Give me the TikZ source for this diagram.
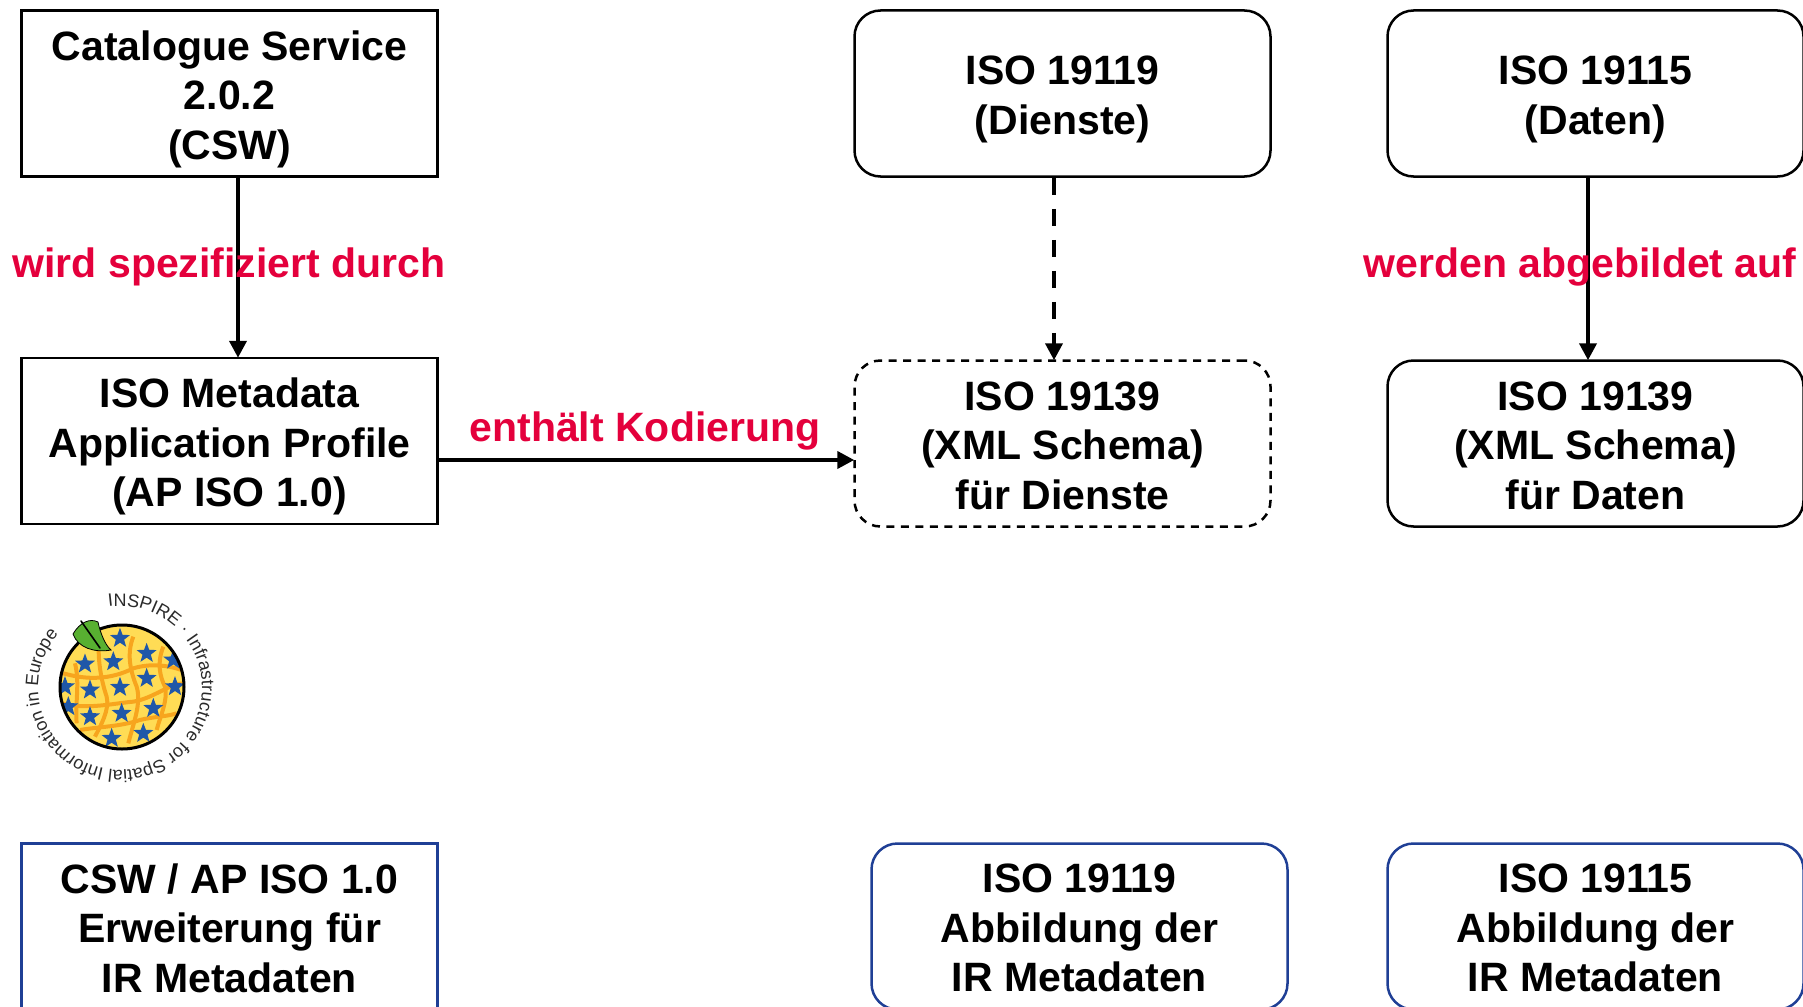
\documentclass[tikz,border=0pt]{standalone}
\usepackage{fontspec}
\setmainfont{Liberation Sans}
\usetikzlibrary{arrows.meta,shapes.geometric,decorations.text}
\definecolor{labelred}{HTML}{E4003C}
\definecolor{boxblue}{HTML}{1F3F95}
\definecolor{globeyellow}{HTML}{FFDC55}
\definecolor{globeorange}{HTML}{F7A51E}
\definecolor{starblue}{HTML}{1F57A8}
\definecolor{leafgreen}{HTML}{58B031}
\definecolor{logotext}{HTML}{2A2A2A}
\newcommand{\logofont}{\fontsize{18}{18}\selectfont\color{logotext}}
\tikzset{
  x=1pt,y=-1pt,
  plainbox/.style={draw=black,line width=2.5pt,minimum width=416pt,minimum height=166pt,inner sep=0pt},
  roundbox/.style={plainbox,rounded corners=26pt},
  dashbox/.style={roundbox,dash pattern=on 8pt off 6.5pt},
  blueplain/.style={plainbox,draw=boxblue},
  blueround/.style={roundbox,draw=boxblue},
  boxtext/.style={inner sep=0pt,align=center,font=\fontsize{41}{49.4}\selectfont\bfseries},
  flow/.style={line width=4pt,shorten >=-1pt,-{Triangle[length=17pt,width=17pt]}},
  flowdash/.style={flow,dash pattern=on 17pt off 14pt},
  redlabel/.style={text=labelred,inner sep=0pt,font=\fontsize{41}{49}\selectfont\bfseries},
  gridline/.style={line width=4pt,globeorange},
  flagstar/.style={star,star points=5,star point ratio=2.4,fill=starblue,inner sep=0pt,minimum size=21pt}
}
\begin{document}
\begin{tikzpicture}
\useasboundingbox (0,0) rectangle (1803,1006);
% top row
\node[plainbox] (cat) at (229.5,93.5) {};
\node[roundbox] (d119) at (1062.5,93.5) {};
\node[roundbox] (d115) at (1595.5,93.5) {};
\node[boxtext] (catt) at (229.5,99) {Catalogue Service\\2.0.2\\(CSW)};
\node[boxtext] (d119t) at (1062.5,99.5) {ISO 19119\\(Dienste)};
\node[boxtext] (d115t) at (1595.5,99.5) {ISO 19115\\(Daten)};
% middle row
\node[plainbox] (ap) at (229.5,441) {};
\node[dashbox] (x139) at (1062.5,443.5) {};
\node[roundbox] (y139) at (1595.5,443.5) {};
\node[boxtext] (apt) at (229.5,446.5) {ISO Metadata\\Application Profile\\(AP ISO 1.0)};
\node[boxtext] (x139t) at (1062.5,445.5) {ISO 19139\\(XML Schema)\\für Dienste};
\node[boxtext] (y139t) at (1595.5,445.5) {ISO 19139\\(XML Schema)\\für Daten};
% bottom row
\node[blueplain] (b1) at (229.5,926.5) {};
\node[blueround] (b2) at (1079.5,926.5) {};
\node[blueround] (b3) at (1595.5,926.5) {};
\node[boxtext] (b1t) at (229.5,928) {CSW / AP ISO 1.0\\Erweiterung für\\IR Metadaten};
\node[boxtext] (b2t) at (1079.5,928) {ISO 19119\\Abbildung der\\IR Metadaten};
\node[boxtext] (b3t) at (1595.5,928) {ISO 19115\\Abbildung der\\IR Metadaten};
% connectors
\draw[flow] ([xshift=8.5pt]cat.south) -- ([xshift=8.5pt]ap.north);
\draw[flowdash] ([xshift=-8.5pt]d119.south) -- ([xshift=-8.5pt]x139.north);
\draw[flow] ([xshift=-7.5pt]d115.south) -- ([xshift=-7.5pt]y139.north);
\draw[flow] ([yshift=-19pt]ap.east) -- ([yshift=-16.5pt]x139.west);
% labels
\node[redlabel] (l1) at (229,266.5) {wird spezifiziert durch};
\node[redlabel] (l2) at (645,430.5) {enthält Kodierung};
\node[redlabel] (l3) at (1580,266.5) {werden abgebildet auf};
% logo
\fill[globeyellow] (122,687) circle (62);
\begin{scope}
\clip (122,687) circle (62);
\begin{scope}[shift={(0,570)},x=0.3333pt,y=-0.3333pt]
\draw[gridline] (190,310) .. controls (260,330) and (330,330) .. (400,295) .. controls (450,280) and (500,285) .. (545,300);
\draw[gridline] (185,400) .. controls (260,420) and (340,400) .. (400,395) .. controls (460,385) and (510,340) .. (550,340);
\draw[gridline] (240,480) .. controls (300,470) and (360,470) .. (420,450) .. controls (460,440) and (500,440) .. (530,430);
\draw[gridline] (300,190) .. controls (290,250) and (300,320) .. (320,380) .. controls (330,420) and (300,470) .. (285,500);
\draw[gridline] (400,200) .. controls (380,250) and (390,300) .. (410,350) .. controls (425,400) and (400,460) .. (385,520);
\draw[gridline] (490,230) .. controls (470,280) and (480,320) .. (495,350) .. controls (505,390) and (480,440) .. (470,480);
\draw[gridline] (225,280) .. controls (240,340) and (225,400) .. (230,460);
\foreach \a/\b in {360/205,440/250,255/282,340/275,520/270,440/325,270/360,360/352,525/350,195/350,205/410,270/440,365/430,460/415,335/505,430/490}{
  \node[flagstar] at (\a,\b) {};
}
\end{scope}
\end{scope}
\draw[line width=3pt] (122,687) circle (62);
\draw[line width=0.8pt,fill=leafgreen] (73,634) .. controls (80,622) and (90,618) .. (98,622) .. controls (100,632) and (105,645) .. (111,650) .. controls (95,653) and (78,648) .. (73,634) -- cycle;
\draw[line width=1.6pt,line cap=round] (81,621) -- (100,648);
\begin{scope}[y=1pt]
\path[decorate,decoration={text along path,text={|\logofont|INSPIRE · Infrastructure for Spatial Information in Europe},text align={left}}]
  (120,-688) ++(98:82) arc[start angle=98,end angle=-222,radius=82];
\end{scope}
\end{tikzpicture}
\end{document}
